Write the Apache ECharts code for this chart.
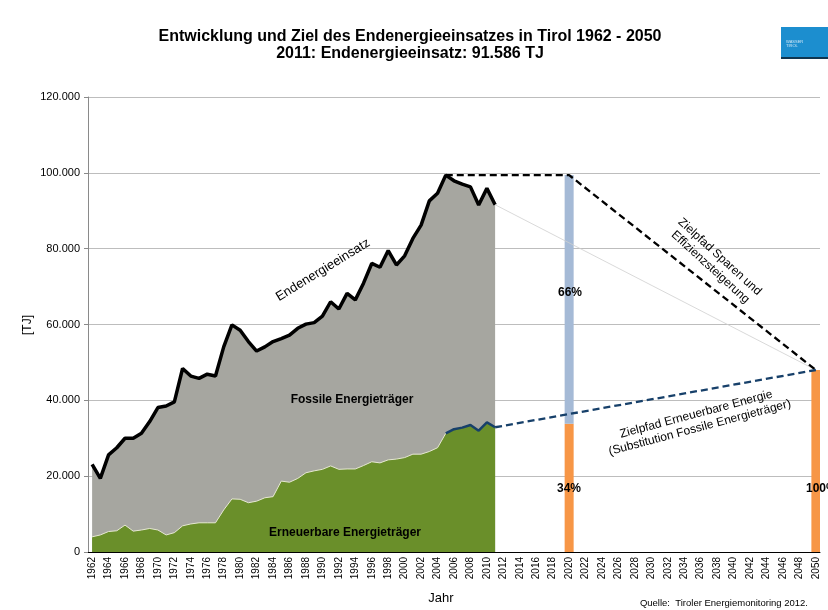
<!DOCTYPE html>
<html>
<head>
<meta charset="utf-8">
<script src="https://cdn.jsdelivr.net/npm/echarts@6/dist/echarts.min.js"></script>
<style>
  html,body{margin:0;padding:0;background:#fff;}
  #chart_wrap{width:828px;height:610px;}
</style>
</head>
<body>
<div id="chart_wrap"></div>
<script>
// Jahre 1962 - 2050
var years=[];
for(var y=1962;y<=2050;y++){ years.push(String(y)); }

// Endenergieeinsatz gesamt 1962 - 2011 [TJ]
var totals=[23100,19400,25600,27500,30000,30000,31300,34400,38100,38500,
  39600,48400,46400,45800,46900,46400,54100,59900,58500,55500,
  53000,54100,55500,56300,57200,59000,60100,60500,62200,66000,
  64100,68200,66500,70900,76100,75100,79500,75700,78100,82700,
  86200,92600,94600,99400,97900,97000,96300,91500,95900,91586];

// Erneuerbare Energieträger 1962 - 2011 [TJ]
var renewables=[4000,4500,5400,5600,7100,5500,5800,6200,5800,4500,
  5100,6900,7400,7700,7700,7700,11100,14000,13900,13000,
  13400,14300,14600,18700,18400,19400,20900,21400,21800,22700,
  21800,21900,21900,22800,23800,23500,24300,24500,24900,25800,
  25800,26500,27500,31300,32400,32800,33500,32000,34200,32900];

// Zielpfade
var peakYear='2005', peakValue=99400;
var target2020Year='2020', target2020Total=99400, target2020Renew=33800;
var target2050Year='2050', target2050Value=48000;
var yTicks=[0,20000,40000,60000,80000,100000,120000];

var objChart=echarts.init(document.getElementById('chart_wrap'));

var pad=function(arr){
  var out=years.map(function(){return null;});
  arr.forEach(function(v,i){ out[i]=v; });
  return out;
};
var points=function(pairs){
  var out=years.map(function(){return null;});
  pairs.forEach(function(p){ out[years.indexOf(p[0])]=p[1]; });
  return out;
};
var lastYear=years[totals.length-1];
var renewLine=pad(renewables).map(function(v,i){ return i>=years.indexOf(peakYear)?v:null; });

var fontFam='"Liberation Sans", Arial, sans-serif';

var txt=function(x,y,text,font,extra){
  var o={type:'text',x:x,y:y,z:100,style:{text:text,font:font+' '+fontFam,fill:'#000',align:'center',verticalAlign:'middle'}};
  if(extra){ for(var k in extra){ if(k==='style'){ for(var s in extra.style){ o.style[s]=extra.style[s]; } } else { o[k]=extra[k]; } } }
  return o;
};

var option={
  animation:false,
  textStyle:{fontFamily:fontFam},
  grid:{left:88,right:8,top:97,bottom:58},
  xAxis:{
    type:'category',
    data:years,
    boundaryGap:true,
    axisLine:{lineStyle:{color:'#000',width:1}},
    axisTick:{interval:0,length:4,lineStyle:{color:'#000'}},
    axisLabel:{interval:1,rotate:90,fontSize:10,color:'#000',margin:5,fontFamily:fontFam},
    splitLine:{show:false}
  },
  yAxis:{
    type:'value',
    min:yTicks[0],
    max:yTicks[yTicks.length-1],
    interval:20000,
    axisLine:{show:true,lineStyle:{color:'#8a8a8a'}},
    axisTick:{show:true,length:4,lineStyle:{color:'#8a8a8a'}},
    axisLabel:{fontSize:11,color:'#000',margin:8,fontFamily:fontFam,
      formatter:function(v){ return v===0?'0':(v/1000)+'.000'; }},
    splitLine:{lineStyle:{color:'#bdbdbd',width:1}}
  },
  series:[
    { // Zielbalken erneuerbar
      type:'bar',stack:'ziel',barWidth:9,z:1,
      itemStyle:{color:'#F79646'},
      data:points([[target2020Year,target2020Renew],[target2050Year,target2050Value]])
    },
    { // Zielbalken fossil
      type:'bar',stack:'ziel',barWidth:9,z:1,
      itemStyle:{color:'#A5BAD6'},
      data:points([[target2020Year,target2020Total-target2020Renew]])
    },
    { // Endenergieeinsatz
      type:'line',symbol:'none',z:2,
      lineStyle:{color:'#000',width:3.5},
      areaStyle:{color:'#A6A6A0',opacity:1},
      data:pad(totals)
    },
    { // Erneuerbare
      type:'line',symbol:'none',z:3,
      lineStyle:{color:'#e6e8d2',width:1},
      areaStyle:{color:'#6A8F2A',opacity:1},
      data:pad(renewables)
    },
    {
      type:'line',symbol:'none',z:4,
      lineStyle:{color:'#17406A',width:2.5},
      data:renewLine
    },
    { // dünne Verbindung
      type:'line',symbol:'none',z:2,connectNulls:true,
      lineStyle:{color:'#cfcfcf',width:0.8},
      data:points([[lastYear,totals[totals.length-1]],[target2050Year,target2050Value]])
    },
    { // Zielpfad Sparen
      type:'line',symbol:'none',z:5,connectNulls:true,
      lineStyle:{color:'#000',width:2.3,type:[7,4]},
      data:points([[peakYear,peakValue],[target2020Year,target2020Total],[target2050Year,target2050Value]])
    },
    { // Zielpfad erneuerbar
      type:'line',symbol:'none',z:5,connectNulls:true,
      lineStyle:{color:'#17406A',width:2.3,type:[7,4]},
      data:points([[lastYear,renewables[renewables.length-1]],[target2050Year,target2050Value]])
    }
  ],
  graphic:[
    txt(410,37,'Entwicklung und Ziel des Endenergieeinsatzes in Tirol 1962 - 2050','bold 16px'),
    txt(410,54,'2011: Endenergieeinsatz: 91.586 TJ','bold 16px'),
    {type:'rect',z:100,shape:{x:781,y:27,width:47,height:31},style:{fill:'#1C8ECF'}},
    {type:'rect',z:100,shape:{x:781,y:57,width:47,height:2},style:{fill:'#0f3550'}},
    txt(786,44,'WASSER\nTIROL','4px',{style:{align:'left',fill:'#cfe6f5'}}),
    txt(28,325,'[TJ]','12px',{rotation:Math.PI/2}),
    txt(441,598,'Jahr','13px'),
    txt(808,603,'Quelle:  Tiroler Energiemonitoring 2012.','9.5px',{style:{align:'right'}}),
    txt(323,270,'Endenergieeinsatz','13px',{rotation:0.55}),
    txt(352,400,'Fossile Energieträger','bold 12px'),
    txt(345,533,'Erneuerbare Energieträger','bold 12px'),
    txt(558,293,'66%','bold 12px',{style:{align:'left'}}),
    txt(557,489,'34%','bold 12px',{style:{align:'left'}}),
    txt(806,489,'100%','bold 12px',{style:{align:'left'}}),
    txt(715,262,'Zielpfad Sparen und\nEffizienzsteigerung','12px',{rotation:-0.74,style:{lineHeight:14}}),
    txt(698,421,'Zielpfad Erneuerbare Energie\n(Substitution Fossile Energieträger)','12px',{rotation:0.26,style:{lineHeight:14}})
  ]
};

objChart.setOption(option);
</script>
</body>
</html>
